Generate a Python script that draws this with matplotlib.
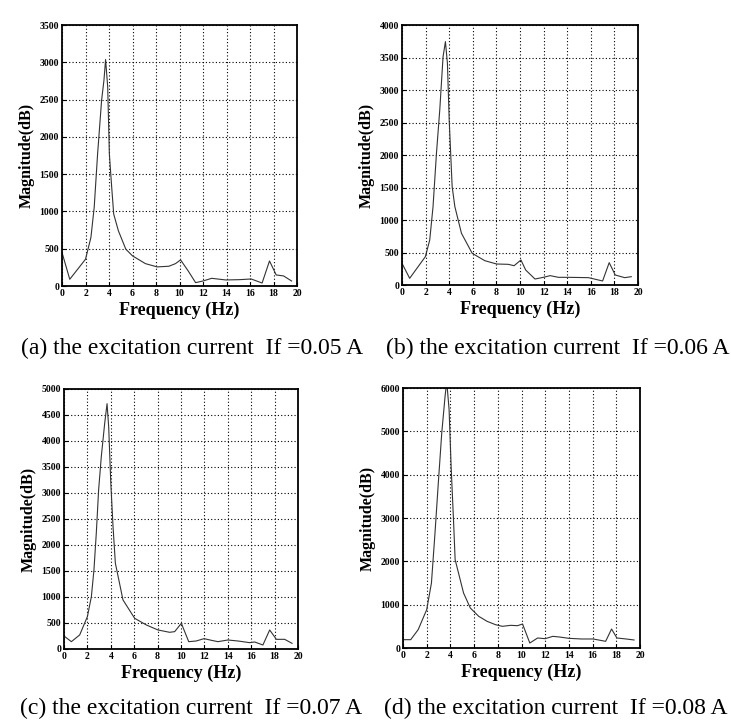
import matplotlib
matplotlib.use('Agg')
import matplotlib.pyplot as plt

plt.rcParams['font.family'] = ['Liberation Serif', 'DejaVu Serif']

# spectra (Hz, magnitude)
freq_a = [0, 0.66, 2.0, 2.46, 2.74, 3.03, 3.37, 3.57, 3.71, 3.89, 4.03, 4.23, 4.4, 4.8, 5.43, 6.0,
          7.1, 8.1, 9.1, 9.66, 10.09, 10.74, 11.37, 12.0, 12.74, 13.94, 15.1, 16.1, 17.03, 17.66,
          18.23, 18.86, 19.54]
mag_a = [450, 90, 359, 650, 1054, 1772, 2490, 2759, 3037, 2670, 1772, 1323, 965, 740, 494, 404,
         300, 256, 265, 300, 350, 202, 45, 67, 103, 81, 85, 94, 40, 336,
         148, 135, 67]

freq_b = [0, 0.65, 1.98, 2.35, 2.63, 2.92, 3.2, 3.48, 3.68, 3.85, 4.0, 4.25, 4.48, 5.04, 5.95,
          7.02, 8.02, 9.0, 9.5, 10.08, 10.48, 11.27, 11.98, 12.55, 13.26, 14.1, 15.8, 17.0, 17.56,
          18.07, 18.87, 19.43]
mag_b = [333, 103, 436, 692, 1205, 2026, 2692, 3513, 3744, 3410, 2538, 1513, 1205, 795, 487,
         374, 323, 318, 297, 385, 231, 92, 118, 144, 118, 118, 113, 62, 344,
         154, 113, 128]

freq_c = [0, 0.63, 1.34, 2.0, 2.34, 2.56, 2.76, 2.96, 3.19, 3.48, 3.68, 3.82, 4.0, 4.19, 4.39,
          5.04, 6.04, 7.04, 8.03, 9.03, 9.46, 10.03, 10.66, 11.3, 11.97, 12.6, 13.16, 14.0, 14.87,
          15.87, 16.3, 17.0, 17.58, 18.15, 18.86, 19.49]
mag_c = [250, 141, 270, 623, 1008, 1521, 2227, 3062, 3704, 4345, 4718, 4268, 3190, 2356, 1650,
         944, 590, 462, 366, 321, 334, 494, 141, 154, 199, 167, 141, 173, 154,
         122, 135, 77, 366, 186, 186, 109]

freq_d = [0, 0.65, 1.28, 2.0, 2.4, 2.7, 2.98, 3.27, 3.55, 3.69, 3.89, 4.06, 4.26, 4.4, 5.11,
          5.68, 6.39, 7.1, 7.81, 8.38, 9.09, 9.66, 10.09, 10.7, 11.36, 12.0, 12.64, 13.2, 14.0,
          15.06, 16.05, 17.1, 17.6, 18.05, 18.83, 19.5]
mag_d = [192, 192, 423, 885, 1500, 2654, 3808, 4962, 5808, 6150, 5500, 4192, 2962, 2038, 1269,
         923, 731, 615, 538, 500, 523, 515, 554, 115, 231, 215, 269, 254, 223,
         208, 208, 154, 438, 231, 208, 185]

y_max = [3500, 4000, 5000, 6000]
y_step = [500, 500, 500, 1000]
x_ticks = list(range(0, 21, 2))
captions = ['(a) the excitation current  If =0.05 A',
            '(b) the excitation current  If =0.06 A',
            '(c) the excitation current  If =0.07 A',
            '(d) the excitation current  If =0.08 A']

W, H = 731, 723
fig = plt.figure(figsize=(W / 100, H / 100), dpi=100)

# axes boxes in pixels: left, top, right, bottom
boxes = [(62, 25, 297, 286), (402, 25, 638, 285), (64, 389, 298, 649), (403, 388, 640, 648)]
cap_pos = [(363, 348), (730, 348), (362, 708), (727, 708)]
data = [(freq_a, mag_a), (freq_b, mag_b), (freq_c, mag_c), (freq_d, mag_d)]

for i in range(4):
    l, t, r, b = boxes[i]
    ax = fig.add_axes([l / W, (H - b) / H, (r - l) / W, (b - t) / H])
    f, m = data[i]
    ax.plot(f, m, color='0.2', lw=0.8)
    ax.set_xlim(0, 20)
    ax.set_ylim(0, y_max[i])
    ax.set_xticks(x_ticks)
    ax.set_yticks(range(0, y_max[i] + 1, y_step[i]))
    ax.grid(True, color='black', linestyle=(0, (1, 2)), linewidth=0.8)
    ax.tick_params(direction='in', length=3, width=0.8, labelsize=7, pad=2)
    for lab in ax.get_xticklabels() + ax.get_yticklabels():
        lab.set_fontweight('bold')
    for s in ax.spines.values():
        s.set_linewidth(1.3)
    ax.set_xlabel('Frequency (Hz)', fontsize=13, fontweight='bold', labelpad=3)
    ax.set_ylabel('Magnitude(dB)', fontsize=11.5, fontweight='bold')
    ax.yaxis.set_label_coords(-0.115, 0.5)

    cx, cy = cap_pos[i]
    fig.text(cx / W, (H - cy) / H, captions[i], fontsize=17, ha='right', va='center')

fig.savefig('out.png', dpi=100, facecolor='white')
